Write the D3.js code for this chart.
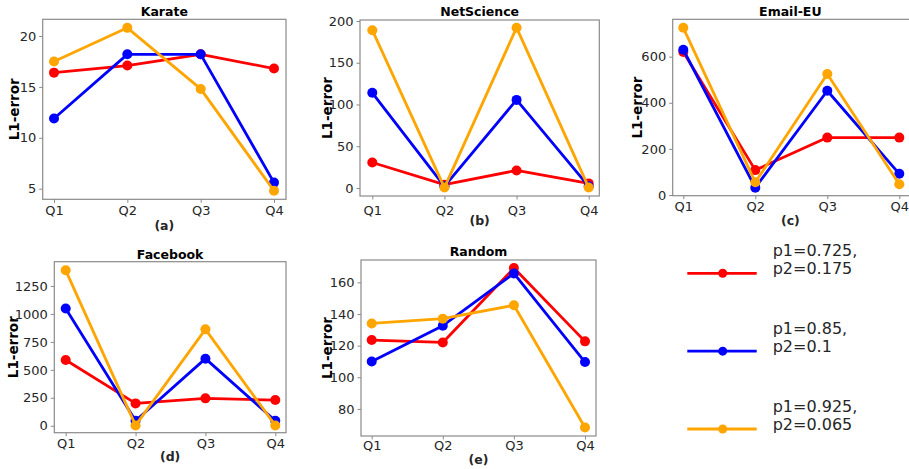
<!DOCTYPE html>
<html>
<head>
<meta charset="utf-8">
<script src="https://cdn.jsdelivr.net/npm/d3@7"></script>
<style>
  html, body { margin: 0; padding: 0; background: #fff; }
  svg { display: block; font-family: "DejaVu Sans", sans-serif; }
</style>
</head>
<body>
<svg id="chart" width="909" height="469"></svg>
<script>
// ---- data ----
const quarters = ["Q1", "Q2", "Q3", "Q4"];
const seriesNames = ["p1=0.725,\np2=0.175", "p1=0.85,\np2=0.1", "p1=0.925,\np2=0.065"];
const seriesColors = ["#ff0000", "#0000ff", "#ffa500"];

const karateRed    = [16.4, 17.1, 18.2, 16.8];
const karateBlue   = [11.9, 18.2, 18.2, 5.6];
const karateOrange = [17.5, 20.8, 14.8, 4.8];

const netRed    = [30.5, 4, 21, 5.5];
const netBlue   = [114, 2, 105.5, 2];
const netOrange = [189, 0.5, 192, 0.5];

const emailRed    = [620, 108, 249, 249];
const emailBlue   = [630, 32, 452, 92];
const emailOrange = [725, 55, 525, 47];

const fbRed    = [588, 200, 245, 230];
const fbBlue   = [1048, 45, 600, 45];
const fbOrange = [1390, 3, 862, 3];

const randRed    = [123.5, 122, 169, 122.7];
const randBlue   = [110, 132.6, 165.6, 109.6];
const randOrange = [134, 137, 145.5, 68.3];

const karateTicks = [5, 10, 15, 20];
const netTicks = [0, 50, 100, 150, 200];
const emailTicks = [0, 200, 400, 600];
const fbTicks = [0, 250, 500, 750, 1000, 1250];
const randTicks = [80, 100, 120, 140, 160];

// ---- layout ----
const panels = [
  { title: "Karate", sub: "(a)", data: [karateRed, karateBlue, karateOrange], ticks: karateTicks,
    domain: [3.96, 21.64], box: { l: 42.7, r: 286, t: 19.3, b: 199.3 }, x0: 54, x1: 274,
    titleY: 11, tickY: 211, subY: 225, labelX: 14 },
  { title: "NetScience", sub: "(b)", data: [netRed, netBlue, netOrange], ticks: netTicks,
    domain: [-9.6, 201.2], box: { l: 360, r: 599.3, t: 20, b: 196 }, x0: 372.3, x1: 588.7,
    titleY: 11, tickY: 210.5, subY: 220, labelX: 327 },
  { title: "Email-EU", sub: "(c)", data: [emailRed, emailBlue, emailOrange], ticks: emailTicks,
    domain: [-3, 762], box: { l: 672.7, r: 910, t: 19.3, b: 195.7 }, x0: 683.3, x1: 899.3,
    titleY: 11, tickY: 206.5, subY: 220, labelX: 637 },
  { title: "Facebook", sub: "(d)", data: [fbRed, fbBlue, fbOrange], ticks: fbTicks,
    domain: [-62, 1467], box: { l: 54.3, r: 286, t: 261.7, b: 432.7 }, x0: 65.7, x1: 275.3,
    titleY: 254, tickY: 444, subY: 456.5, labelX: 13 },
  { title: "Random", sub: "(e)", data: [randRed, randBlue, randOrange], ticks: randTicks,
    domain: [62.9, 174.1], box: { l: 361, r: 596, t: 260, b: 436 }, x0: 371.7, x1: 585,
    titleY: 251.5, tickY: 445, subY: 459, labelX: 327 }
];

const svg = d3.select("#chart");
const frameColor = "#8a8a8a";
const textColor = "#262626";

panels.forEach(p => {
  const g = svg.append("g");
  const x = d3.scalePoint().domain(quarters).range([p.x0, p.x1]);
  const y = d3.scaleLinear().domain(p.domain).range([p.box.b, p.box.t]);

  // frame
  g.append("rect")
    .attr("x", p.box.l).attr("y", p.box.t)
    .attr("width", p.box.r - p.box.l).attr("height", p.box.b - p.box.t)
    .attr("fill", "none").attr("stroke", frameColor).attr("stroke-width", 1.2);

  // y axis
  const yAxis = d3.axisLeft(y).tickValues(p.ticks).tickFormat(d3.format("d")).tickSize(3.5).tickPadding(3);
  const ya = g.append("g").attr("transform", `translate(${p.box.l},0)`).call(yAxis)
    .attr("font-size", 13).attr("font-family", "DejaVu Sans");
  ya.select(".domain").remove();
  ya.selectAll(".tick line").attr("stroke", frameColor);
  ya.selectAll(".tick text").attr("fill", textColor);

  // x axis
  const xAxis = d3.axisBottom(x).tickSize(3.5).tickPadding(3);
  const xa = g.append("g").attr("transform", `translate(0,${p.box.b})`).call(xAxis)
    .attr("font-size", 13).attr("font-family", "DejaVu Sans");
  xa.select(".domain").remove();
  xa.selectAll(".tick line").attr("stroke", frameColor);
  xa.selectAll(".tick text").attr("fill", textColor).attr("dy", null)
    .attr("y", p.tickY - p.box.b).attr("dominant-baseline", "central");

  // title
  g.append("text").attr("x", (p.box.l + Math.min(p.box.r, 908)) / 2).attr("y", p.titleY)
    .attr("text-anchor", "middle").attr("dominant-baseline", "central")
    .attr("font-weight", "bold").attr("font-size", 12.5).attr("fill", "#000").text(p.title);

  // subplot label
  g.append("text").attr("x", (p.box.l + Math.min(p.box.r, 908)) / 2).attr("y", p.subY)
    .attr("text-anchor", "middle").attr("dominant-baseline", "central")
    .attr("font-weight", "bold").attr("font-size", 12.5).attr("fill", textColor).text(p.sub);

  // y label
  const cy = (p.box.t + p.box.b) / 2;
  g.append("text").attr("transform", `translate(${p.labelX},${cy}) rotate(-90)`)
    .attr("text-anchor", "middle").attr("dominant-baseline", "central")
    .attr("font-weight", "bold").attr("font-size", 13.5).attr("fill", "#000").text("L1-error");

  // series
  const line = d3.line().x((d, i) => x(quarters[i])).y(d => y(d));
  p.data.forEach((vals, si) => {
    g.append("path").datum(vals).attr("d", line)
      .attr("fill", "none").attr("stroke", seriesColors[si]).attr("stroke-width", 2.8)
      .attr("stroke-linejoin", "round");
    g.selectAll(null).data(vals).enter().append("circle")
      .attr("cx", (d, i) => x(quarters[i])).attr("cy", d => y(d)).attr("r", 5)
      .attr("fill", seriesColors[si]);
  });
});

// legend
const legendRows = d3.scalePoint().domain(d3.range(seriesNames.length)).range([273.3, 429]);
const lg = svg.append("g");
seriesNames.forEach((name, i) => {
  const yy = legendRows(i);
  lg.append("line").attr("x1", 687.3).attr("x2", 756.7).attr("y1", yy).attr("y2", yy)
    .attr("stroke", seriesColors[i]).attr("stroke-width", 2.8);
  lg.append("circle").attr("cx", 722.7).attr("cy", yy).attr("r", 4.5).attr("fill", seriesColors[i]);
  const lines = name.split("\n");
  lines.forEach((t, j) => {
    lg.append("text").attr("x", 772.7).attr("y", yy - 23 + j * 18.3)
      .attr("dominant-baseline", "central").attr("font-size", 16).attr("fill", textColor)
      .text(t);
  });
});
</script>
</body>
</html>
